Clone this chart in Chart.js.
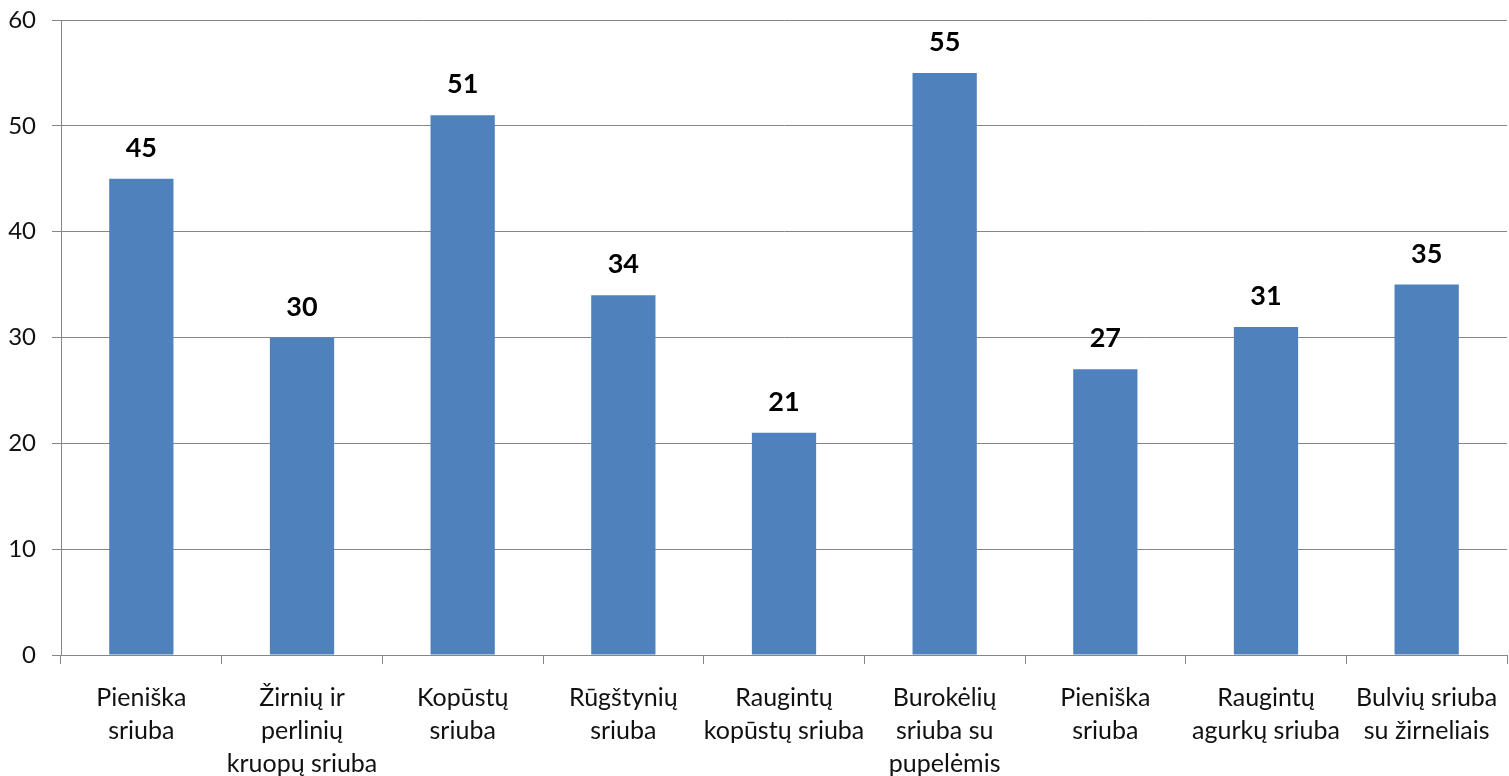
<!DOCTYPE html>
<html><head><meta charset="utf-8">
<script src="https://cdn.jsdelivr.net/npm/chart.js@4/dist/chart.umd.min.js"></script>
<style>html,body{margin:0;padding:0;background:#fff}#wrap{width:1509px;height:776px}</style>
</head><body><div id="wrap"><canvas id="c" width="1509" height="776"></canvas></div>
<script>
const categories = [
  ["Pieniška","sriuba"],
  ["Žirnių ir","perlinių","kruopų sriuba"],
  ["Kopūstų","sriuba"],
  ["Rūgštynių","sriuba"],
  ["Raugintų","kopūstų sriuba"],
  ["Burokėlių","sriuba su","pupelėmis"],
  ["Pieniška","sriuba"],
  ["Raugintų","agurkų sriuba"],
  ["Bulvių sriuba","su žirneliais"]
];
const values = [45, 30, 51, 34, 21, 55, 27, 31, 35];
const yTicks = [0, 10, 20, 30, 40, 50, 60];

const valueLabels = {
  id: 'valueLabels',
  afterDatasetsDraw(chart) {
    const ctx = chart.ctx;
    const meta = chart.getDatasetMeta(0);
    ctx.save();
    ctx.font = 'bold 27px Lato';
    ctx.fillStyle = '#000';
    ctx.textAlign = 'center';
    ctx.textBaseline = 'bottom';
    meta.data.forEach((bar, i) => {
      ctx.fillText(String(values[i]), bar.x, bar.y - 17);
    });
    ctx.restore();
  }
};

new Chart(document.getElementById('c'), {
  type: 'bar',
  data: {
    labels: categories,
    datasets: [{
      data: values,
      backgroundColor: '#4F81BD',
      borderWidth: 0,
      barPercentage: 0.4,
      categoryPercentage: 1.0
    }]
  },
  options: {
    responsive: false,
    animation: false,
    devicePixelRatio: 1,
    layout: { padding: { top: 20, right: 2, left: 0, bottom: 0 } },
    plugins: { legend: { display: false }, tooltip: { enabled: false } },
    scales: {
      y: {
        min: 0, max: 60,
        afterFit(s) { s.width = 61; s.paddingTop = 0; s.paddingBottom = 0; },
        afterBuildTicks(s) { s.ticks = yTicks.map(v => ({ value: v })); },
        ticks: { color: '#111', font: { family: 'Lato', size: 24 }, padding: 16 },
        grid: { color: '#868686', lineWidth: 1, tickLength: 9, drawTicks: true },
        border: { color: '#868686', width: 1 }
      },
      x: {
        afterFit(s) { s.height = 121; s.paddingLeft = 0; s.paddingRight = 0; },
        ticks: { color: '#111', font: { family: 'Lato', size: 25, lineHeight: '33px' }, padding: 17, maxRotation: 0, autoSkip: false },
        grid: { color: '#868686', lineWidth: 1, tickLength: 9, drawOnChartArea: false, offset: true },
        border: { color: '#868686', width: 1 }
      }
    }
  },
  plugins: [valueLabels]
});
</script></body></html>
